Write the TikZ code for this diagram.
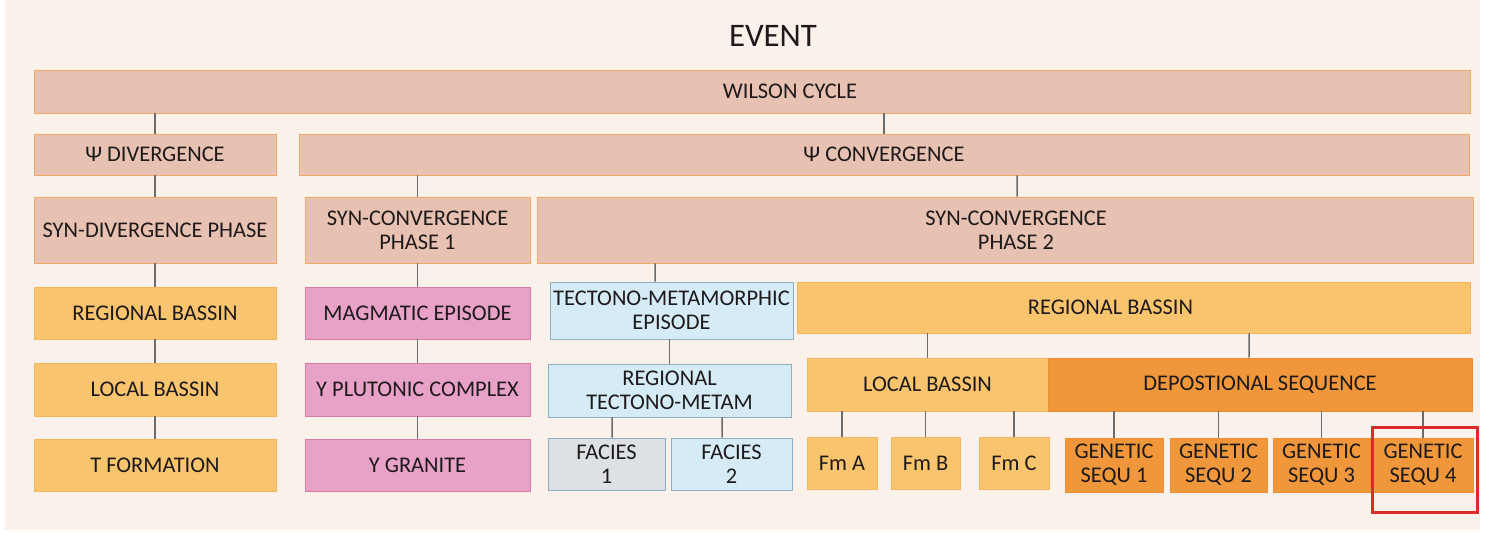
\documentclass[tikz,border=0pt]{standalone}
\usepackage{fontspec}
\setmainfont{Carlito}
\definecolor{panel}{HTML}{FAF1EA}
\definecolor{ink}{HTML}{1E1A1B}
\definecolor{salmonfill}{HTML}{E7C1B1}
\definecolor{salmonedge}{HTML}{EFAA66}
\definecolor{sandfill}{HTML}{F8C46E}
\definecolor{sandedge}{HTML}{F3B560}
\definecolor{pinkfill}{HTML}{E8A2C8}
\definecolor{pinkedge}{HTML}{DA7CA6}
\definecolor{icefill}{HTML}{D5EBF5}
\definecolor{iceedge}{HTML}{8DAFC4}
\definecolor{greyfill}{HTML}{DDE1E4}
\definecolor{deepfill}{HTML}{F0973C}
\definecolor{deepedge}{HTML}{EE8D33}
\definecolor{linkgrey}{HTML}{6B6B6B}
\definecolor{markred}{HTML}{DD2A2A}
\tikzset{
  boxtext/.style={text=ink, align=center, font=\fontsize{22.5}{24}\selectfont},
  box/.style={draw, line width=0.9bp, inner sep=0pt, boxtext},
  salmonbox/.style={box, fill=salmonfill, draw=salmonedge},
  sandbox/.style={box, fill=sandfill, draw=sandedge},
  pinkbox/.style={box, fill=pinkfill, draw=pinkedge},
  icebox/.style={box, fill=icefill, draw=iceedge},
  greybox/.style={box, fill=greyfill, draw=iceedge},
  deepbox/.style={box, fill=deepfill, draw=deepedge},
  link/.style={draw=linkgrey, line width=1.5bp},
}
\begin{document}
\begin{tikzpicture}[x=1bp,y=-1bp]
  \path[use as bounding box] (0,0) rectangle (1486,533);
  \fill[white] (0,0) rectangle (1486,533);
  \fill[panel] (5,0) rectangle (1480,530);

  \node[text=ink,font=\fontsize{33}{36}\selectfont] (event) at (773,36) {EVENT};

  % top levels
  \node[salmonbox,minimum width=1436bp,minimum height=43bp,
    label={[boxtext,xshift=38bp]center:WILSON CYCLE}] (wilson) at (752,91.5) {};
  \node[salmonbox,minimum width=242bp,minimum height=41bp] (psidiv) at (155,154.5) {Ψ DIVERGENCE};
  \node[salmonbox,minimum width=1170bp,minimum height=41bp] (psiconv) at (884,154.5) {Ψ CONVERGENCE};

  \node[salmonbox,minimum width=242bp,minimum height=66bp] (syndiv) at (155,230) {SYN-DIVERGENCE PHASE};
  \node[salmonbox,minimum width=225bp,minimum height=66bp] (synconvA) at (417.5,230) {SYN-CONVERGENCE\\PHASE 1};
  \node[salmonbox,minimum width=936bp,minimum height=66bp,
    label={[boxtext,xshift=11bp]center:SYN-CONVERGENCE\\PHASE 2}] (synconvB) at (1005,230) {};

  % divergence column
  \node[sandbox,minimum width=242bp,minimum height=52bp] (regbasA) at (155,313) {REGIONAL BASSIN};
  \node[sandbox,minimum width=242bp,minimum height=53bp] (locbasA) at (155,389.5) {LOCAL BASSIN};
  \node[sandbox,minimum width=242bp,minimum height=52bp] (tform) at (155,465) {T FORMATION};

  % magmatic column
  \node[pinkbox,minimum width=225bp,minimum height=52bp] (magma) at (417.5,313) {MAGMATIC EPISODE};
  \node[pinkbox,minimum width=225bp,minimum height=53bp] (pluton) at (417.5,389.5) {Y PLUTONIC COMPLEX};
  \node[pinkbox,minimum width=225bp,minimum height=52bp] (granite) at (417.5,465) {Y GRANITE};

  % tectono-metamorphic branch
  \node[icebox,minimum width=243bp,minimum height=57bp] (tecto) at (671.5,310.5) {TECTONO-METAMORPHIC\\EPISODE};
  \node[icebox,minimum width=243bp,minimum height=53bp] (regtecto) at (669.5,390.5) {REGIONAL\\TECTONO-METAM};
  \node[greybox,minimum width=117bp,minimum height=52bp] (faciesA) at (606.5,464) {FACIES\\1};
  \node[icebox,minimum width=121bp,minimum height=52bp] (faciesB) at (731.5,464) {FACIES\\2};

  % basin branch
  \node[sandbox,minimum width=673bp,minimum height=51bp,
    label={[boxtext,xshift=-23bp]center:REGIONAL BASSIN}] (regbasB) at (1133.5,307.5) {};
  \node[sandbox,minimum width=241bp,minimum height=53bp] (locbasB) at (927.5,384.5) {LOCAL BASSIN};
  \node[deepbox,minimum width=424bp,minimum height=53bp] (deposeq) at (1260,384.5) {DEPOSTIONAL SEQUENCE};
  \node[sandbox,minimum width=70bp,minimum height=52bp] (fmA) at (842,463) {Fm A};
  \node[sandbox,minimum width=69bp,minimum height=52bp] (fmB) at (925.5,463) {Fm B};
  \node[sandbox,minimum width=70bp,minimum height=52bp] (fmC) at (1014,463) {Fm C};
  \node[deepbox,minimum width=98bp,minimum height=54bp] (genA) at (1114,465) {GENETIC\\SEQU 1};
  \node[deepbox,minimum width=97bp,minimum height=54bp] (genB) at (1218.5,465) {GENETIC\\SEQU 2};
  \node[deepbox,minimum width=97bp,minimum height=54bp] (genC) at (1321.5,465) {GENETIC\\SEQU 3};
  \node[deepbox,minimum width=100bp,minimum height=54bp] (genD) at (1423,465) {GENETIC\\SEQU 4};

  % connectors
  \draw[link] (wilson.south -| psidiv.north) -- (psidiv.north);
  \draw[link] (wilson.south -| psiconv.north) -- (psiconv.north);
  \draw[link] (psidiv) -- (syndiv);
  \draw[link] (psiconv.south -| synconvA.north) -- (synconvA.north);
  \draw[link] (psiconv.south -| synconvB.north) ++(12,0) -- ([xshift=12bp]synconvB.north);
  \draw[link] (syndiv) -- (regbasA);
  \draw[link] (regbasA) -- (locbasA);
  \draw[link] (locbasA) -- (tform);
  \draw[link] (synconvA) -- (magma);
  \draw[link] (magma) -- (pluton);
  \draw[link] (pluton) -- (granite);
  \draw[link] (synconvB.south -| 655,0) -- ([xshift=-16.5bp]tecto.north);
  \draw[link] (tecto.south -| regtecto.north) -- (regtecto.north);
  \draw[link] (regtecto.south -| faciesA.north) ++(5.5,0) -- ([xshift=5.5bp]faciesA.north);
  \draw[link] (regtecto.south -| faciesB.north) ++(-9.5,0) -- ([xshift=-9.5bp]faciesB.north);
  \draw[link] (regbasB.south -| locbasB.north) -- (locbasB.north);
  \draw[link] (regbasB.south -| 1249,0) -- ([xshift=-11bp]deposeq.north);
  \foreach \fm in {fmA,fmB,fmC}
    \draw[link] (locbasB.south -| \fm.north) -- (\fm.north);
  \foreach \gs in {genA,genB,genC,genD}
    \draw[link] (deposeq.south -| \gs.north) -- (\gs.north);

  % highlight
  \draw[markred,line width=3bp] (1372,427) rectangle (1477,512);
\end{tikzpicture}
\end{document}
